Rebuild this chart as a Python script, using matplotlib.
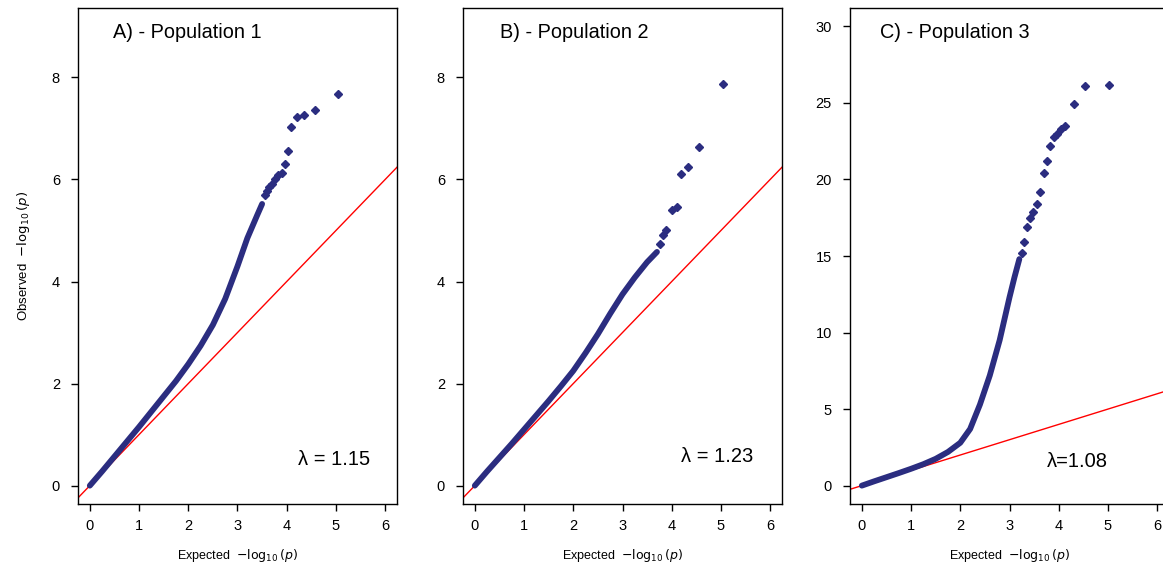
import matplotlib.pyplot as plt
import numpy as np

plt.rcParams['font.family'] = ['Liberation Sans', 'DejaVu Sans']

navy = "#2b2d80"

# dense part of each QQ curve (expected, observed)
band_exp_a = [0.0, 0.25, 0.5, 0.75, 1.0, 1.25, 1.5, 1.75, 2.0, 2.25, 2.5, 2.75, 3.0, 3.2, 3.4, 3.5]
band_obs_a = [0.0, 0.28, 0.57, 0.86, 1.15, 1.45, 1.75, 2.05, 2.38, 2.74, 3.15, 3.66, 4.3, 4.85, 5.3, 5.52]
tail_exp_a = [3.55, 3.6, 3.65, 3.7, 3.76, 3.82, 3.9, 3.96, 4.02, 4.08, 4.2, 4.35, 4.57, 5.04]
tail_obs_a = [5.7, 5.78, 5.85, 5.92, 6.0, 6.08, 6.12, 6.3, 6.55, 7.02, 7.22, 7.27, 7.37, 7.68]

band_exp_b = [0.0, 0.25, 0.5, 0.75, 1.0, 1.25, 1.5, 1.75, 2.0, 2.25, 2.5, 2.75, 3.0, 3.25, 3.5, 3.7]
band_obs_b = [0.0, 0.28, 0.55, 0.82, 1.1, 1.38, 1.66, 1.95, 2.25, 2.6, 2.97, 3.37, 3.75, 4.08, 4.38, 4.58]
tail_exp_b = [3.76, 3.82, 3.88, 4.0, 4.1, 4.18, 4.33, 4.55, 5.04]
tail_obs_b = [4.73, 4.92, 5.0, 5.41, 5.47, 6.1, 6.25, 6.63, 7.88]

band_exp_c = [0.0, 0.25, 0.5, 0.75, 1.0, 1.25, 1.5, 1.75, 2.0, 2.2, 2.4, 2.6, 2.8, 2.9, 3.0, 3.1, 3.2]
band_obs_c = [0.0, 0.28, 0.55, 0.82, 1.1, 1.4, 1.75, 2.2, 2.8, 3.7, 5.3, 7.2, 9.5, 10.9, 12.3, 13.6, 14.8]
tail_exp_c = [3.25, 3.3, 3.36, 3.42, 3.48, 3.55, 3.62, 3.7, 3.76, 3.82, 3.9, 3.97, 4.05, 4.13, 4.32, 4.53, 5.03]
tail_obs_c = [15.2, 15.9, 16.9, 17.5, 17.9, 18.4, 19.2, 20.4, 21.2, 22.2, 22.8, 23.0, 23.3, 23.5, 24.9, 26.1, 26.2]

titles = ["A) - Population 1", "B) - Population 2", "C) - Population 3"]
lambdas = ["\u03bb = 1.15", "\u03bb = 1.23", "\u03bb=1.08"]
lambda_pos = [(4.96, 0.52), (4.92, 0.57), (4.37, 1.55)]
yticks = [[0, 2, 4, 6, 8], [0, 2, 4, 6, 8], [0, 5, 10, 15, 20, 25, 30]]
ylims = [(-0.36, 9.36), (-0.36, 9.36), (-1.2, 31.2)]
title_x = [0.11, 0.116, 0.094]

panels = [
    (band_exp_a, band_obs_a, tail_exp_a, tail_obs_a),
    (band_exp_b, band_obs_b, tail_exp_b, tail_obs_b),
    (band_exp_c, band_obs_c, tail_exp_c, tail_obs_c),
]

W, H = 1163, 570
fig = plt.figure(figsize=(W / 100, H / 100), dpi=100)
lefts = [78, 463, 850]
for i, (bx, by, tx, ty) in enumerate(panels):
    ax = fig.add_axes([lefts[i] / W, (H - 504) / H, 319 / W, 496 / H])
    ax.set_xlim(-0.24, 6.24)
    ax.set_ylim(*ylims[i])
    line = np.array([-2, 40])
    ax.plot(line, line, color="red", lw=1, zorder=1)
    ax.plot(bx, by, color=navy, lw=4.2, solid_capstyle="round", zorder=2)
    ax.plot(tx, ty, "D", color=navy, ms=3.6, mec=navy, zorder=3)
    ax.set_xticks(range(7))
    ax.set_yticks(yticks[i])
    ax.tick_params(labelsize=10.5, length=5, width=1, direction="out")
    ax.tick_params(axis="x", pad=6)
    ax.tick_params(axis="y", pad=8)
    for s in ax.spines.values():
        s.set_linewidth(1)
    ax.text(title_x[i], 0.95, titles[i], transform=ax.transAxes, fontsize=14.3,
            va="center", ha="left")
    ax.text(lambda_pos[i][0], lambda_pos[i][1], lambdas[i], fontsize=14.5,
            ha="center", va="center")
    ax.set_xlabel("Expected  $-\\log_{10}(p)$", fontsize=9, labelpad=10)
    if i == 0:
        ax.set_ylabel("Observed  $-\\log_{10}(p)$", fontsize=9.5, labelpad=14)

fig.savefig("out.png", dpi=100)
